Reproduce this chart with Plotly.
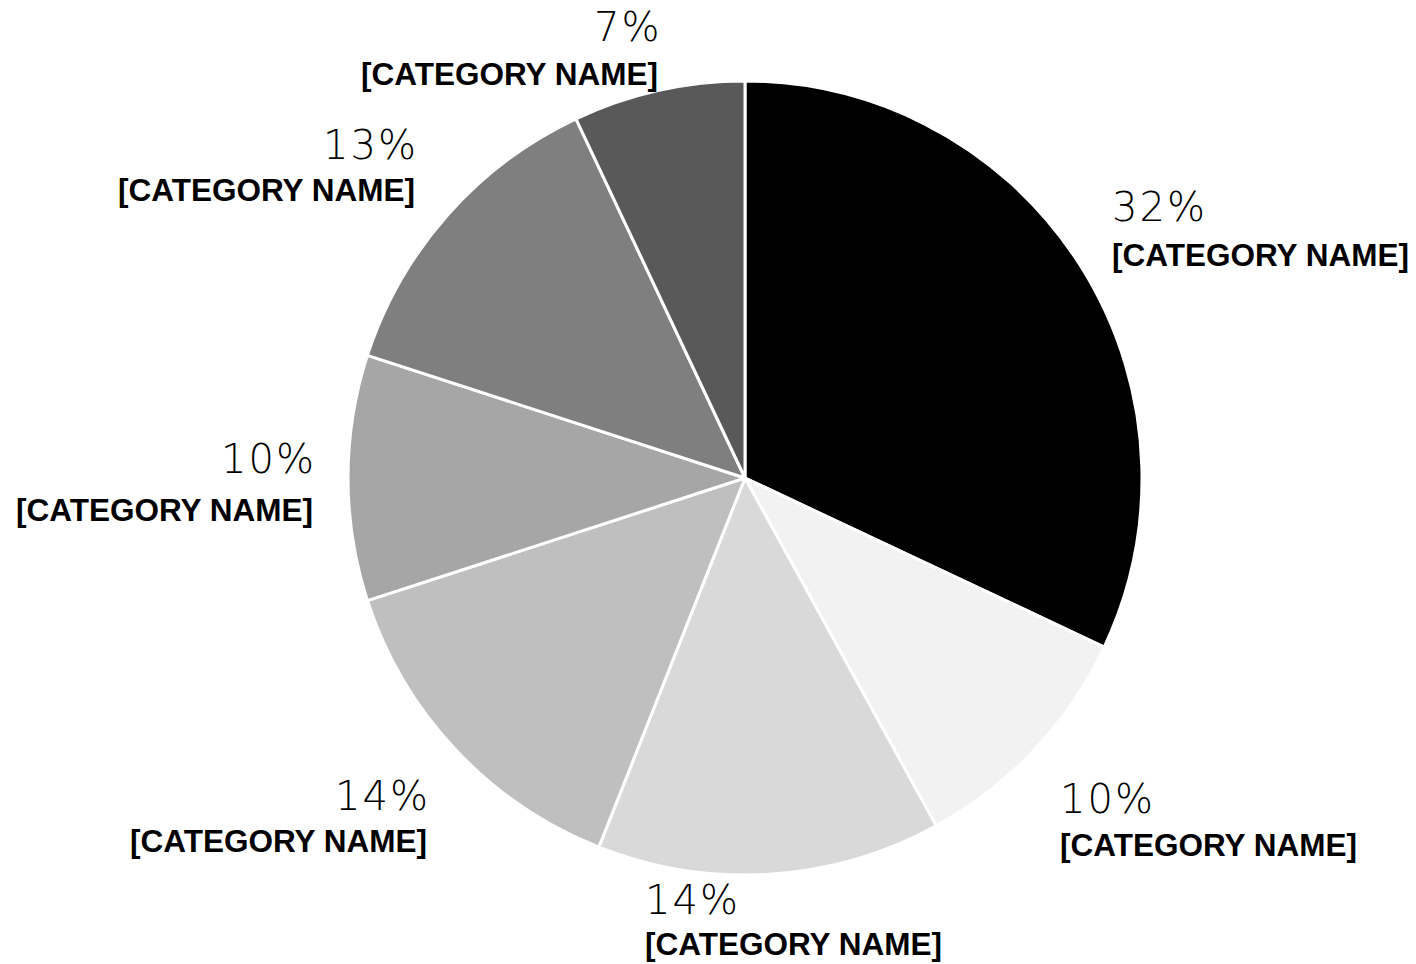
import plotly.graph_objects as go

W, H = 1416, 964

# data
categories = ["[CATEGORY NAME]"] * 7
slice_ids = ["A", "B", "C", "D", "E", "F", "G"]
values = [32, 10, 14, 14, 10, 13, 7]
colors = ["#000000", "#f2f2f2", "#d9d9d9", "#bfbfbf", "#a6a6a6", "#7f7f7f", "#595959"]

# label placement (pixels): anchor x, side, percent-row y, name-row y
label_x = [1112, 1060, 645, 427, 313, 415, 658]
label_side = ["left", "left", "left", "right", "right", "right", "right"]
pct_x_shift = [0, 0, 0, 3, 3, 3, 3]
pct_y = [207, 799, 900, 796, 459, 145, 27]
name_y = [255, 845, 944, 841, 510, 190, 74]

cx, cy, r = 745, 478, 397

fig = go.Figure(go.Pie(
    labels=slice_ids,
    values=values,
    sort=False,
    direction="clockwise",
    rotation=0,
    marker=dict(colors=colors, line=dict(color="white", width=3)),
    textinfo="none",
    hoverinfo="skip",
    showlegend=False,
    domain=dict(x=[(cx - r) / W, (cx + r) / W],
                y=[(H - cy - r) / H, (H - cy + r) / H]),
))

total = sum(values)
annotations = []
for i, v in enumerate(values):
    pct = f"{round(100 * v / total)}%"
    annotations.append(dict(
        x=(label_x[i] + pct_x_shift[i]) / W, y=1 - pct_y[i] / H, xref="paper", yref="paper",
        xanchor=label_side[i], yanchor="middle", showarrow=False,
        text=f"<span style='letter-spacing:2px'>{pct}</span>", borderpad=0, borderwidth=0,
        font=dict(family="'DejaVu Sans', sans-serif", size=40, color="#000000", weight=200),
    ))
    annotations.append(dict(
        x=label_x[i] / W, y=1 - name_y[i] / H, xref="paper", yref="paper",
        xanchor=label_side[i], yanchor="middle", showarrow=False,
        text=f"<b>{categories[i]}</b>", borderpad=0, borderwidth=0,
        font=dict(family="'Liberation Sans', Arial, sans-serif", size=31.5, color="#000000"),
    ))

fig.update_layout(
    width=W, height=H,
    margin=dict(l=0, r=0, t=0, b=0),
    paper_bgcolor="white", plot_bgcolor="white",
    annotations=annotations,
)

fig.write_html("out.html",
               config={"displayModeBar": False},
               post_script="document.body.style.margin='0';document.body.style.overflow='hidden';")
